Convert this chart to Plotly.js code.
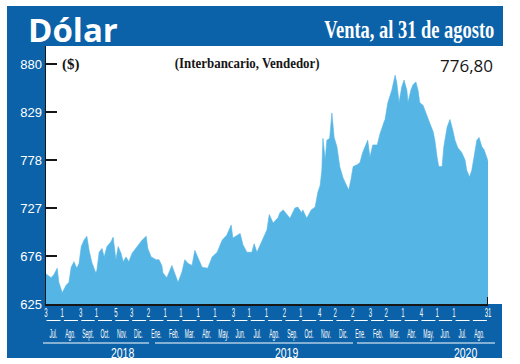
<!DOCTYPE html>
<html>
<head>
<meta charset="utf-8">
<script src="https://cdn.plot.ly/plotly-3.0.1.min.js"></script>
<style>
  html, body { margin: 0; padding: 0; background: #ffffff; }
  #chart { width: 520px; height: 364px; }
</style>
</head>
<body>
<div id="chart"></div>
<script>
// ---------- data ----------
const dates = [
  '2018-07-03','2018-07-12','2018-07-17','2018-07-23','2018-07-26','2018-08-01','2018-08-08','2018-08-13','2018-08-17','2018-08-22','2018-08-27','2018-08-31',
  '2018-09-04','2018-09-09','2018-09-14','2018-09-18','2018-09-23','2018-09-30','2018-10-02','2018-10-06','2018-10-11','2018-10-15','2018-10-20','2018-10-27','2018-10-31',
  '2018-11-05','2018-11-09','2018-11-14','2018-11-18','2018-11-23','2018-11-28','2018-12-04','2018-12-13','2018-12-22','2018-12-29',
  '2019-01-01','2019-01-07','2019-01-16','2019-01-21','2019-01-26','2019-01-28','2019-02-04','2019-02-13','2019-02-19','2019-02-24',
  '2019-03-03','2019-03-08','2019-03-14','2019-03-21','2019-03-26','2019-04-01','2019-04-08','2019-04-18','2019-04-26',
  '2019-05-05','2019-05-14','2019-05-22','2019-05-30','2019-06-02','2019-06-09','2019-06-15','2019-06-20','2019-06-27',
  '2019-07-06','2019-07-10','2019-07-15','2019-07-24','2019-08-02','2019-08-06','2019-08-13','2019-08-22','2019-08-25','2019-08-31',
  '2019-09-07','2019-09-12','2019-09-21','2019-09-26','2019-10-03','2019-10-05','2019-10-12','2019-10-20','2019-10-27',
  '2019-11-01','2019-11-05','2019-11-08','2019-11-10','2019-11-14','2019-11-17','2019-11-22','2019-11-26','2019-11-30','2019-12-05','2019-12-10','2019-12-16','2019-12-23','2019-12-26','2019-12-30',
  '2020-01-03','2020-01-10','2020-01-15','2020-01-20','2020-01-29','2020-02-02','2020-02-07','2020-02-15','2020-02-20','2020-02-27','2020-02-29',
  '2020-03-05','2020-03-12','2020-03-18','2020-03-21','2020-03-25','2020-03-30','2020-04-03','2020-04-08','2020-04-10','2020-04-15','2020-04-19','2020-04-24','2020-04-28',
  '2020-05-01','2020-05-07','2020-05-14','2020-05-19','2020-05-25','2020-05-28','2020-06-01','2020-06-04','2020-06-10','2020-06-13','2020-06-19','2020-06-24','2020-06-29',
  '2020-07-03','2020-07-08','2020-07-15','2020-07-21','2020-07-24','2020-07-29','2020-08-02','2020-08-06','2020-08-11','2020-08-15','2020-08-20','2020-08-24','2020-08-29','2020-08-31'
];
const values = [
  657,653,656,663,648,637,645,648,664,670,663,668,
  686,693,697,682,669,658,661,680,684,675,686,691,696,
  672,686,679,670,675,670,679,686,693,697,
  684,675,672,672,666,658,653,666,656,648,
  659,672,668,666,682,674,664,663,675,
  680,693,698,709,695,698,700,688,680,
  680,689,680,693,704,720,711,717,722,725,
  720,716,727,728,722,725,716,725,728,
  744,751,767,801,778,799,801,828,802,792,771,759,751,746,757,
  771,773,775,786,799,781,794,794,806,818,821,
  839,852,868,860,839,856,863,852,839,852,858,861,852,
  839,836,826,817,808,799,781,771,771,792,813,821,810,
  799,791,786,778,767,760,767,781,799,802,792,789,781,776.8
];

const yTicks = [625, 676, 727, 778, 829, 880];

// first trading day of each month (bottom number row)
const dayTickDates = ['2018-07-03','2018-08-01','2018-09-03','2018-10-01','2018-11-05','2018-12-03',
  '2019-01-02','2019-02-01','2019-03-01','2019-04-01','2019-05-01','2019-06-03','2019-07-01','2019-08-01','2019-09-02','2019-10-01','2019-11-04','2019-12-02',
  '2020-01-02','2020-02-03','2020-03-02','2020-04-01','2020-05-04','2020-06-01','2020-07-01','2020-08-31'];
const dayTickText = ['3','1','3','1','5','3','2','1','1','1','1','3','1','1','2','1','4','2','2','3','2','1','4','1','1','31'];

const monthKeys = ['2018-07','2018-08','2018-09','2018-10','2018-11','2018-12',
  '2019-01','2019-02','2019-03','2019-04','2019-05','2019-06','2019-07','2019-08','2019-09','2019-10','2019-11','2019-12',
  '2020-01','2020-02','2020-03','2020-04','2020-05','2020-06','2020-07','2020-08'];
const monthLabels = ['Jul.','Ago.','Sept.','Oct.','Nov.','Dic.','Ene.','Feb.','Mar.','Abr.','May.','Jun.','Jul.','Ago.','Sep.','Oct.','Nov.','Dic.',
  'Ene.','Feb.','Mar.','Abr.','May.','Jun.','Jul.','Ago.'];
const yearLabels = ['2018', '2019', '2020'];

const title = 'Dólar';
const subtitle = 'Venta, al 31 de agosto';
const sourceNote = '(Interbancario, Vendedor)';
const unitLabel = '($)';
const lastValueLabel = '776,80';

// ---------- style ----------
const BLUE = '#0b62a8';
const AREA = '#55b5e5';
const INK = '#161616';
const SANS = 'Liberation Sans, Arial, sans-serif';
const SERIF = 'Liberation Serif, Times New Roman, serif';

// pixel helpers for the decorative frame (plot area: x 46..488, y 46..304)
const L = 46, R = 488, T = 46, B = 304;
const px = x => (x - L) / (R - L);
const py = y => (B - y) / (B - T);

function addDays(iso, n) {
  const d = new Date(iso + 'T00:00:00Z');
  d.setUTCDate(d.getUTCDate() + n);
  return d.toISOString().slice(0, 10);
}
function monthEnd(key) {
  const [y, m] = key.split('-').map(Number);
  const d = new Date(Date.UTC(y, m, 0));
  return d.toISOString().slice(0, 10);
}

const shapes = [
  {type: 'rect', xref: 'paper', yref: 'paper', x0: px(7), x1: px(503), y0: py(46), y1: py(6), fillcolor: BLUE, line: {width: 0}, layer: 'below'},
  {type: 'rect', xref: 'paper', yref: 'paper', x0: px(7), x1: px(46), y0: py(304), y1: py(46), fillcolor: BLUE, line: {width: 0}, layer: 'below'},
  {type: 'rect', xref: 'paper', yref: 'paper', x0: px(7), x1: px(502), y0: py(358), y1: py(304), fillcolor: BLUE, line: {width: 0}, layer: 'below'},
  {type: 'line', xref: 'x', yref: 'paper', x0: '2020-08-31', x1: '2020-08-31', y0: 0, y1: py(297), line: {color: INK, width: 2}},
];
monthKeys.forEach(k => {
  shapes.push({type: 'line', xref: 'x', yref: 'paper', x0: addDays(k + '-01', 3), x1: addDays(monthEnd(k), -2),
    y0: py(320.5), y1: py(320.5), line: {color: '#ffffff', width: 1}});
});
[[43, 149], [155, 353], [357, 495]].forEach(([a, b]) => {
  shapes.push({type: 'line', xref: 'paper', yref: 'paper', x0: px(a), x1: px(b), y0: py(343), y1: py(343), line: {color: '#ffffff', width: 1}});
});

const annotations = [
  {text: title, xref: 'paper', yref: 'paper', x: px(26), y: py(30), xanchor: 'left', yanchor: 'middle', showarrow: false,
   font: {family: 'Open Sans, Noto Sans, sans-serif', size: 33, color: '#ffffff', weight: 700}},
  {text: subtitle, xref: 'paper', yref: 'paper', x: px(496), y: py(30), xanchor: 'right', yanchor: 'middle', align: 'right', showarrow: false,
   font: {family: SERIF, size: 25, color: '#ffffff', weight: 700}},
  {text: sourceNote, xref: 'paper', yref: 'paper', x: px(247), y: py(63), xanchor: 'center', yanchor: 'middle', showarrow: false,
   font: {family: SERIF, size: 15, color: INK, weight: 700}},
  {text: unitLabel, xref: 'paper', yref: 'paper', x: px(60), y: py(64), xanchor: 'left', yanchor: 'middle', showarrow: false,
   font: {family: SERIF, size: 15, color: INK, weight: 700}},
  {text: lastValueLabel, xref: 'paper', yref: 'paper', x: px(495), y: py(65), xanchor: 'right', yanchor: 'middle', showarrow: false,
   font: {family: 'Open Sans, Noto Sans, sans-serif', size: 17, color: INK}},
];
monthKeys.forEach((k, i) => {
  const mid = (i === 0) ? addDays(k + '-01', 16) : addDays(k + '-01', 15);
  annotations.push({text: monthLabels[i], xref: 'x', yref: 'paper', x: mid, y: py(334), xanchor: 'center', yanchor: 'middle',
    showarrow: false, font: {family: SANS, size: 12, color: '#ffffff'}});
});
const yearPos = ['2018-11-16', '2019-09-05', '2020-07-21'];
yearLabels.forEach((t, i) => {
  annotations.push({text: t, xref: 'x', yref: 'paper', x: yearPos[i], y: py(353), xanchor: 'center', yanchor: 'middle',
    showarrow: false, font: {family: SANS, size: 14, color: '#ffffff'}});
});

const trace = {
  type: 'scatter', mode: 'lines', x: dates, y: values,
  fill: 'tozeroy', fillcolor: AREA, line: {color: AREA, width: 0.6}, hoverinfo: 'skip'
};

const layout = {
  width: 520, height: 364,
  margin: {l: L, r: 520 - R, t: T, b: 364 - B},
  paper_bgcolor: '#ffffff', plot_bgcolor: '#ffffff',
  showlegend: false,
  xaxis: {
    type: 'date', range: ['2018-07-03', '2020-08-31'],
    showgrid: false, zeroline: false, showline: true, linecolor: INK, linewidth: 2,
    tickmode: 'array', tickvals: dayTickDates, ticktext: dayTickText, tickangle: 0,
    ticks: '', tickfont: {family: SANS, size: 12, color: '#ffffff'}
  },
  yaxis: {
    range: [625, 625 + (B - T) * 255 / 240], tickmode: 'array', tickvals: yTicks,
    showgrid: false, zeroline: false, showline: true, linecolor: INK, linewidth: 1.5,
    ticks: 'inside', ticklen: 11, tickwidth: 2, tickcolor: INK,
    tickfont: {family: SANS, size: 13, color: '#ffffff'}
  },
  shapes: shapes,
  annotations: annotations
};

// horizontal condensing of a text element around its anchor point (visual only)
function scaleX(el, s, dy) {
  const x = parseFloat(el.getAttribute('x')) || 0;
  const old = el.getAttribute('transform') || '';
  el.setAttribute('transform', `${old} translate(${x},${dy || 0}) scale(${s.toFixed(3)},1) translate(${-x},0)`);
}

Plotly.newPlot('chart', [trace], layout, {staticPlot: true, displayModeBar: false}).then(gd => {
  const monthSet = new Set(monthLabels);
  gd.querySelectorAll('.annotation-text').forEach(t => {
    const s = t.textContent;
    const w = t.getComputedTextLength();
    if (s === subtitle) scaleX(t, 170 / w);
    else if (s === sourceNote) scaleX(t, 145 / w);
    else if (monthSet.has(s)) scaleX(t, 0.42);
    else if (yearLabels.includes(s)) scaleX(t, 0.75);
  });
  gd.querySelectorAll('.xtick text').forEach(t => scaleX(t, 0.5, -3));
});
</script>
</body>
</html>
